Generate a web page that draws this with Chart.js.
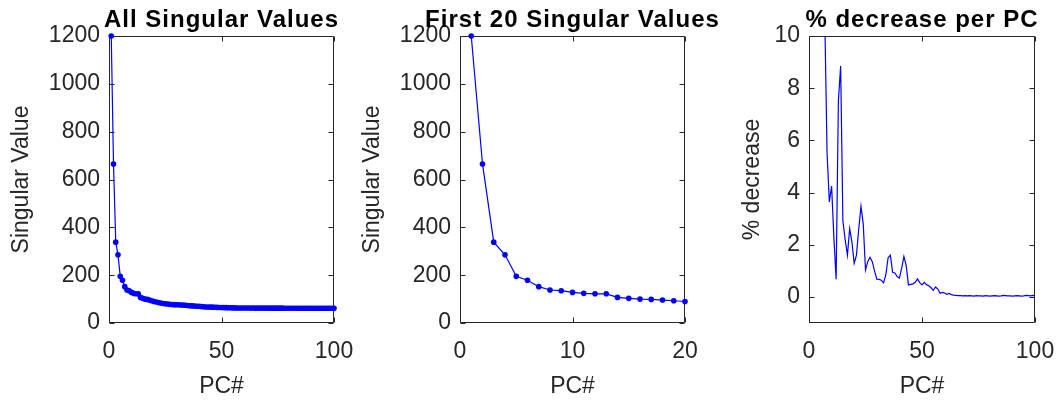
<!DOCTYPE html>
<html>
<head>
<meta charset="utf-8">
<script src="https://cdn.jsdelivr.net/npm/chart.js@4.4.1/dist/chart.umd.min.js"></script>
<style>
  body { margin: 0; background: #fff; }
  #wrap { position: relative; width: 1057px; height: 402px; overflow: hidden; }
  #wrap canvas { position: absolute; top: 0; }
</style>
</head>
<body>
<div id="wrap">
  <canvas id="allSv" width="370" height="402" style="left:0px"></canvas>
  <canvas id="firstSv" width="370" height="402" style="left:350px"></canvas>
  <canvas id="pctDrop" width="380" height="402" style="left:700px"></canvas>
</div>
<script>
// singular values for the first 100 PCs
const singularValues = [
  1200, 665, 338, 285, 195, 179, 152, 138, 135, 128,
  124, 122, 122, 107, 103, 100, 98.7, 96, 93, 90,
  88, 86, 83.5, 81.5, 80.5, 79.5, 78.5, 77.5, 76.8, 76.3,
  75.8, 75.3, 74.9, 74.3, 73.2, 72, 71.4, 70.8, 70.3, 69.8,
  69.1, 68, 67.2, 66.9, 66.6, 66.3, 65.9, 65.4, 65.1, 64.8,
  64.4, 64.1, 63.8, 63.6, 63.4, 63.2, 63.0, 62.9, 62.8, 62.7,
  62.6, 62.6, 62.5, 62.5, 62.4, 62.4, 62.3, 62.3, 62.3, 62.2,
  62.2, 62.1, 62.1, 62.1, 62.0, 62.0, 62.0, 61.9, 61.9, 61.9,
  61.8, 61.8, 61.8, 61.7, 61.7, 61.7, 61.7, 61.6, 61.6, 61.6,
  61.6, 61.5, 61.5, 61.5, 61.5, 61.4, 61.4, 61.4, 61.4, 61.3
];

// % decrease per PC
const pctDecrease = [
  44.6, 49.2, 15.7, 31.6, 18.0, 14.0, 10.6, 5.5, 3.64, 4.25,
  2.3, 0.68, 7.5, 8.85, 2.9, 2.2, 1.6, 2.62, 2.1, 1.29,
  1.6, 2.6, 3.47, 2.8, 1.03, 1.35, 1.52, 1.35, 1.0, 0.68,
  0.67, 0.64, 0.54, 0.85, 1.5, 1.6, 0.94, 0.92, 0.78, 0.72,
  1.1, 1.55, 1.2, 0.46, 0.48, 0.5, 0.56, 0.69, 0.55, 0.46,
  0.56, 0.47, 0.43, 0.35, 0.25, 0.38, 0.3, 0.14, 0.17, 0.15,
  0.10, 0.13, 0.09, 0.07, 0.06, 0.05, 0.05, 0.04, 0.05, 0.04,
  0.05, 0.04, 0.03, 0.05, 0.04, 0.04, 0.03, 0.05, 0.04, 0.03,
  0.04, 0.05, 0.04, 0.03, 0.04, 0.06, 0.05, 0.04, 0.04, 0.03,
  0.04, 0.05, 0.04, 0.03, 0.04, 0.06, 0.05, 0.04, 0.06, 0.05
];

const pcNumbers = singularValues.map((_, i) => i + 1);

const xTicksAll = [0, 50, 100];
const xTicksFirst = [0, 10, 20];
const svTicks = [0, 200, 400, 600, 800, 1000, 1200];
const pctTicks = [0, 2, 4, 6, 8, 10];

const FONT = "'Liberation Sans', Arial, Helvetica, sans-serif";
const AXIS_COLOR = '#262626';
const BLUE = '#0000ff';

// matlab-style box: frame round the plot area with inward ticks on all four sides
const boxAxes = {
  id: 'boxAxes',
  beforeDatasetsDraw(chart) {
    const { ctx, chartArea: a, scales: { x, y } } = chart;
    const L = Math.round(a.left) + 0.5, R = Math.round(a.right) - 0.5;
    const T = Math.round(a.top) + 0.5, B = Math.round(a.bottom) - 0.5;
    const len = 5;
    ctx.save();
    ctx.strokeStyle = AXIS_COLOR;
    ctx.lineWidth = 1;
    ctx.beginPath();
    ctx.rect(L, T, R - L, B - T);
    x.ticks.forEach(t => {
      const px = Math.round(x.getPixelForValue(t.value)) + 0.5;
      ctx.moveTo(px, B); ctx.lineTo(px, B - len);
      ctx.moveTo(px, T); ctx.lineTo(px, T + len);
    });
    y.ticks.forEach(t => {
      const py = Math.round(y.getPixelForValue(t.value)) + 0.5;
      ctx.moveTo(L, py); ctx.lineTo(L + len, py);
      ctx.moveTo(R, py); ctx.lineTo(R - len, py);
    });
    ctx.stroke();
    ctx.restore();
  }
};

// title centred over the plot box rather than the whole canvas
const axesTitle = {
  id: 'axesTitle',
  afterDraw(chart, args, opts) {
    const { ctx, chartArea: a } = chart;
    ctx.save();
    ctx.font = `bold 24px ${FONT}`;
    ctx.letterSpacing = '1px';
    ctx.fillStyle = '#000';
    ctx.textAlign = 'center';
    ctx.textBaseline = 'alphabetic';
    ctx.fillText(opts.text, (a.left + a.right) / 2, 27);
    ctx.restore();
  }
};

// ticks.padding also counts toward the room chart.js keeps for the last x label,
// so every canvas leaves well over 35px to the right of its plot box
function makePanel(id, cfg) {
  const points = cfg.x.map((v, i) => ({ x: v, y: cfg.y[i] }));
  const canvas = document.getElementById(id);
  const padRight = canvas.width - cfg.yWidth - cfg.plotWidth;
  return new Chart(canvas, {
    type: 'line',
    data: {
      datasets: [{
        data: points,
        borderColor: BLUE,
        backgroundColor: BLUE,
        borderWidth: 1.2,
        pointRadius: cfg.markers ? 2.8 : 0,
        pointBorderWidth: 0,
        pointBackgroundColor: BLUE,
        tension: 0,
        clip: cfg.clip
      }]
    },
    options: {
      responsive: false,
      animation: false,
      events: [],
      layout: { padding: { left: 0, top: 36, bottom: 0, right: padRight } },
      plugins: {
        legend: { display: false },
        tooltip: { enabled: false },
        title: { display: false },
        axesTitle: { text: cfg.title }
      },
      scales: {
        x: {
          type: 'linear',
          min: cfg.xTicks[0],
          max: cfg.xTicks[cfg.xTicks.length - 1],
          grid: { display: false, drawTicks: false },
          border: { display: false },
          afterBuildTicks: s => { s.ticks = cfg.xTicks.map(v => ({ value: v })); },
          afterFit: s => { s.height = 79; },
          ticks: {
            color: AXIS_COLOR,
            padding: 15,
            maxRotation: 0,
            callback: v => String(v),
            font: { family: FONT, size: 23 }
          },
          title: {
            display: true,
            text: 'PC#',
            color: AXIS_COLOR,
            font: { family: FONT, size: 23 },
            padding: { top: 0, bottom: 2 }
          }
        },
        y: {
          min: cfg.yMin,
          max: cfg.yTicks[cfg.yTicks.length - 1],
          grid: { display: false, drawTicks: false },
          border: { display: false },
          afterBuildTicks: s => { s.ticks = cfg.yTicks.map(v => ({ value: v })); },
          afterFit: s => { s.width = cfg.yWidth; },
          ticks: {
            color: AXIS_COLOR,
            padding: 9,
            callback: v => String(v),
            font: { family: FONT, size: 23 }
          },
          title: {
            display: true,
            text: cfg.yLabel,
            color: AXIS_COLOR,
            font: { family: FONT, size: 23 },
            padding: { top: cfg.yTitlePad, bottom: 0 }
          }
        }
      }
    },
    plugins: [boxAxes, axesTitle]
  });
}

makePanel('allSv', {
  title: 'All Singular Values',
  x: pcNumbers, y: singularValues, markers: true, clip: false,
  xTicks: xTicksAll, yTicks: svTicks, yMin: 0,
  yLabel: 'Singular Value', yWidth: 109, plotWidth: 225, yTitlePad: 8
});

makePanel('firstSv', {
  title: 'First 20 Singular Values',
  x: pcNumbers.slice(0, 20), y: singularValues.slice(0, 20), markers: true, clip: false,
  xTicks: xTicksFirst, yTicks: svTicks, yMin: 0,
  yLabel: 'Singular Value', yWidth: 110, plotWidth: 225, yTitlePad: 9
});

makePanel('pctDrop', {
  title: '% decrease per PC',
  x: pcNumbers, y: pctDecrease, markers: false, clip: 0,
  xTicks: xTicksAll, yTicks: pctTicks, yMin: -1,
  yLabel: '% decrease', yWidth: 109, plotWidth: 226, yTitlePad: 39
});
</script>
</body>
</html>
